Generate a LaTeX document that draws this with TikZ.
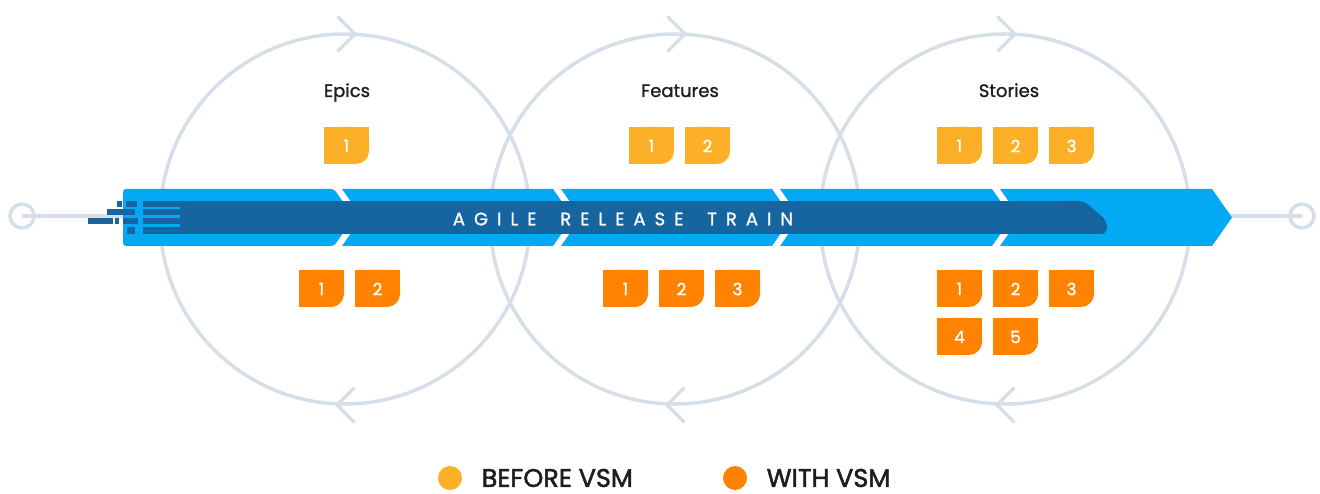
\documentclass[tikz,border=0pt]{standalone}
\usepackage{fontspec}
\setmainfont{Poppins}
\newfontfamily\semifont[FakeBold=1.2]{Poppins}
\newfontfamily\legendfont[FakeBold=2]{Poppins}
\newfontfamily\trainfont[LetterSpace=50, FakeBold=1.2]{Poppins}
\usetikzlibrary{positioning}
\definecolor{ringgray}{RGB}{214,223,231}
\definecolor{trainlight}{RGB}{3,169,244}
\definecolor{traindark}{RGB}{22,100,160}
\definecolor{tileyellow}{RGB}{251,176,39}
\definecolor{tileorange}{RGB}{255,131,0}
\definecolor{labelblack}{RGB}{30,30,30}

\tikzset{
  ring/.style={draw=ringgray, line width=3.5pt},
  ringtip/.style={draw=ringgray, line width=3.5pt, line cap=round, line join=round},
  tilenum/.style={text=white, font=\semifont\fontsize{17}{17}\selectfont},
  title/.style={text=labelblack, font=\semifont\fontsize{18}{18}\selectfont, anchor=base},
  legend/.style={text=labelblack, font=\legendfont\fontsize{25.5}{26}\selectfont},
  legenddot/.style={circle, inner sep=0pt, minimum size=24pt},
}

% tile with a rounded lower right corner: name, left, top, colour, number
\newcommand{\vsmtile}[5]{%
  \fill[#4, rounded corners=13pt] (#2,#3) rectangle ++(45,37);
  \fill[#4] (#2,#3) rectangle ++(32,37);
  \fill[#4] (#2,#3) rectangle ++(45,24);
  \path (#2,#3) ++(22.5,19) node[tilenum] (#1) {#5};
}

\begin{document}
\begin{tikzpicture}[x=1pt, y=-1pt]
\useasboundingbox (0,0) rectangle (1320,494);

% the three loops
\foreach \cx in {345,675,1005} {
  \draw[ring] (\cx,219) circle[radius=185pt];
  \draw[ringtip] (\cx-7,17) -- (\cx+10,34) -- (\cx-7,51);
  \draw[ringtip] (\cx+9,388) -- (\cx-8,405) -- (\cx+9,422);
}

% track
\node[circle, draw=ringgray, line width=3.5pt, fill=white, minimum size=24pt, inner sep=0pt] (endL) at (22,216) {};
\node[circle, draw=ringgray, line width=3.5pt, fill=white, minimum size=24pt, inner sep=0pt] (endR) at (1302,216) {};
\draw[ring] (endL.center) -- (endR.center);

% train cars
\fill[trainlight, rounded corners=3pt] (123,189) -- (334,189) -- (354,217.5) -- (334,246) -- (123,246) -- cycle;
\foreach \a/\b in {342/553, 561/772, 780/992}
  \fill[trainlight] (\a,189) -- (\b,189) -- (\b+20,217.5) -- (\b,246) -- (\a,246) -- (\a+20,217.5) -- cycle;
\fill[trainlight] (1000,189) -- (1212,189) -- (1232,217.5) -- (1212,246) -- (1000,246) -- (1020,217.5) -- cycle;

% dark band with speed lines
\fill[traindark] (143,201) rectangle (1075,234);
\fill[traindark, rounded corners=6pt] (1060,201) -- (1084,201) -- (1107,221) -- (1107,234) -- (1060,234) -- cycle;
\foreach \ya/\yb in {207/209.5, 215.5/218, 224.5/227}
  \fill[trainlight] (143,\ya) rectangle (180,\yb);
\foreach \xa/\ya/\xb/\yb in {117/201/122/207, 126/201/137/207, 107/209.5/135/215.5,
    88/218/113/224.5, 115/218/119/224.5, 123/218/138/224.5, 127/227/135/234}
  \fill[traindark] (\xa,\ya) rectangle (\xb,\yb);
\node[text=white, font=\trainfont\fontsize{18}{18}\selectfont] (art) at (623,219)
  {AGILE\hspace{10pt} RELEASE\hspace{10pt} TRAIN};

% titles
\node[title] (epics) at (347,97) {Epics};
\node[title] (features) at (680,97) {Features};
\node[title] (stories) at (1009,97) {Stories};

% before VSM
\vsmtile{epB1}{324}{127}{tileyellow}{1}
\vsmtile{feB1}{629}{127}{tileyellow}{1}
\vsmtile{feB2}{685}{127}{tileyellow}{2}
\vsmtile{stB1}{937}{127}{tileyellow}{1}
\vsmtile{stB2}{993}{127}{tileyellow}{2}
\vsmtile{stB3}{1049}{127}{tileyellow}{3}

% with VSM
\vsmtile{epW1}{299}{270}{tileorange}{1}
\vsmtile{epW2}{355}{270}{tileorange}{2}
\vsmtile{feW1}{603}{270}{tileorange}{1}
\vsmtile{feW2}{659}{270}{tileorange}{2}
\vsmtile{feW3}{715}{270}{tileorange}{3}
\vsmtile{stW1}{937}{270}{tileorange}{1}
\vsmtile{stW2}{993}{270}{tileorange}{2}
\vsmtile{stW3}{1049}{270}{tileorange}{3}
\vsmtile{stW4}{937}{318}{tileorange}{4}
\vsmtile{stW5}{993}{318}{tileorange}{5}

% legend
\node[legenddot, fill=tileyellow] (dotbefore) at (450,478) {};
\node[legend, right=16pt of dotbefore] (before) {BEFORE VSM};
\node[legenddot, fill=tileorange] (dotwith) at (735,478) {};
\node[legend, right=16pt of dotwith] (with) {WITH VSM};
\end{tikzpicture}
\end{document}
